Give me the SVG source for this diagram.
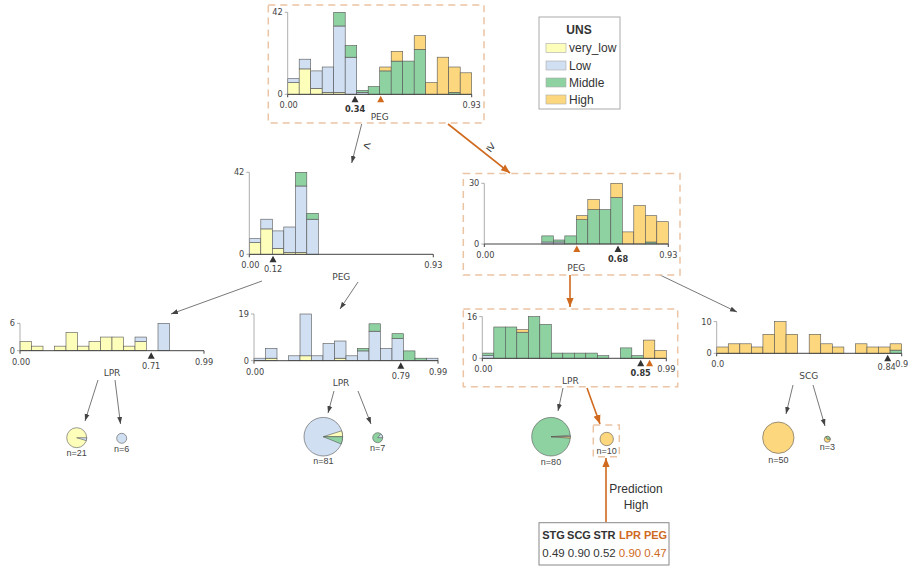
<svg xmlns="http://www.w3.org/2000/svg" width="916" height="581" viewBox="0 0 916 581">
<defs>
<style>
text{font-family:"Liberation Sans",Arial,sans-serif;fill:#333}
.tk{font-family:"DejaVu Sans",sans-serif;font-size:8.2px;fill:#444}
.tkm{font-family:"DejaVu Sans",sans-serif;font-size:8.2px;fill:#444;text-anchor:middle}
.tkb{font-family:"DejaVu Sans",sans-serif;font-size:8.2px;fill:#333;font-weight:bold;text-anchor:middle}
.ye{text-anchor:end}
.fl{font-family:"DejaVu Sans",sans-serif;font-size:9px;fill:#444;text-anchor:middle}
.ya{stroke:#999;stroke-width:0.8;fill:none}
.xa{stroke:#444;stroke-width:1;fill:none}
.b rect{stroke:#555;stroke-width:0.6}
.vl{fill:#FEFEBB}.lo{fill:#D0DFF1}.mi{fill:#8FD2A2}.hi{fill:#FDD77E}
.dbox{fill:none;stroke:#EBC4A4;stroke-width:1.5;stroke-dasharray:7,5}
.tb{fill:#333}.to{fill:#CF6A1E}
.e{stroke:#555;stroke-width:0.8;fill:none}
.eo{stroke:#CF6A1E;stroke-width:1.6;fill:none}
.pie circle,.pie path{stroke:#555;stroke-width:0.6}
.nl{font-size:9px;text-anchor:middle;fill:#444}
.lg{font-size:12px;fill:#333}
.pb{font-size:11px;font-weight:bold;text-anchor:middle;fill:#333}
.pv{font-size:11.5px;text-anchor:middle;fill:#333}
.or{fill:#CF6A1E}
</style>
<marker id="ag" viewBox="0 0 10 10" refX="10" refY="5" markerWidth="7" markerHeight="7" markerUnits="userSpaceOnUse" orient="auto"><path d="M0,1.5 L10,5 L0,8.5 z" fill="#444"/></marker>
<marker id="ao" viewBox="0 0 10 10" refX="10" refY="5" markerWidth="9" markerHeight="9" markerUnits="userSpaceOnUse" orient="auto"><path d="M0,1 L10,5 L0,9 z" fill="#CF6A1E"/></marker>
</defs>
<rect width="916" height="581" fill="#fff"/>

<g id="connectors">
<line class="e" x1="361.7" y1="124" x2="351.7" y2="163" marker-end="url(#ag)"/>
<line class="eo" x1="448" y1="124" x2="510" y2="173" marker-end="url(#ao)"/>
<line class="e" x1="262" y1="281" x2="171" y2="314" marker-end="url(#ag)"/>
<line class="e" x1="358" y1="282" x2="340" y2="309" marker-end="url(#ag)"/>
<line class="eo" x1="570" y1="275" x2="570" y2="307" marker-end="url(#ao)"/>
<line class="e" x1="660" y1="275" x2="737" y2="312" marker-end="url(#ag)"/>
<line class="e" x1="98" y1="380" x2="85" y2="421" marker-end="url(#ag)"/>
<line class="e" x1="115" y1="380" x2="120.5" y2="424" marker-end="url(#ag)"/>
<line class="e" x1="334" y1="391" x2="328" y2="413" marker-end="url(#ag)"/>
<line class="e" x1="358" y1="391" x2="371" y2="424" marker-end="url(#ag)"/>
<line class="e" x1="563" y1="388" x2="558" y2="411" marker-end="url(#ag)"/>
<line class="eo" x1="587" y1="388" x2="600" y2="424" marker-end="url(#ao)"/>
<line class="e" x1="793" y1="385" x2="786" y2="414" marker-end="url(#ag)"/>
<line class="e" x1="813" y1="385" x2="825" y2="426" marker-end="url(#ag)"/>
<line class="eo" x1="606" y1="522" x2="606" y2="458" marker-end="url(#ao)"/>
<text x="367" y="150" font-size="13" text-anchor="middle" transform="rotate(14 367 146)">&lt;</text>
<text x="491" y="151" font-size="13" text-anchor="middle" transform="rotate(38 491 147)">≥</text>
<text x="636" y="492.5" font-size="12" text-anchor="middle">Prediction</text>
<text x="636" y="508.5" font-size="12" text-anchor="middle">High</text>
</g>

<g id="legend">
<rect x="539" y="17" width="81" height="92" fill="#fff" stroke="#aaa" stroke-width="1"/>
<text x="579" y="33.5" font-size="12" font-weight="bold" text-anchor="middle">UNS</text>
<rect class="vl" x="546" y="43.5" width="20" height="9" stroke="#aaa" stroke-width="0.6"/>
<text class="lg" x="569" y="52">very_low</text>
<rect class="lo" x="546" y="61" width="20" height="9" stroke="#aaa" stroke-width="0.6"/>
<text class="lg" x="569" y="69.5">Low</text>
<rect class="mi" x="546" y="78" width="20" height="9" stroke="#aaa" stroke-width="0.6"/>
<text class="lg" x="569" y="86.5">Middle</text>
<rect class="hi" x="546" y="95" width="20" height="9" stroke="#aaa" stroke-width="0.6"/>
<text class="lg" x="569" y="103.5">High</text>
</g>

<g id="node0">
<rect class="dbox" x="268.3" y="5" width="215.7" height="118"/>
<g transform="translate(287.7,94.3)">
<g class="b">
<rect class="vl" x="0" y="-11.7" width="11.5" height="11.7"/><rect class="lo" x="0" y="-15.6" width="11.5" height="3.9"/>
<rect class="vl" x="11.5" y="-25.4" width="11.5" height="25.4"/><rect class="lo" x="11.5" y="-35.1" width="11.5" height="9.7"/>
<rect class="vl" x="23" y="-5.9" width="11.5" height="5.9"/><rect class="lo" x="23" y="-23.4" width="11.5" height="17.5"/>
<rect class="vl" x="34.5" y="-2" width="11.5" height="2"/><rect class="lo" x="34.5" y="-27.3" width="11.5" height="25.3"/>
<rect class="vl" x="46" y="-2" width="11.5" height="2"/><rect class="lo" x="46" y="-68.3" width="11.5" height="66.3"/><rect class="mi" x="46" y="-82" width="11.5" height="13.7"/>
<rect class="lo" x="57.5" y="-37.1" width="11.5" height="37.1"/><rect class="mi" x="57.5" y="-48.8" width="11.5" height="11.7"/>
<rect class="lo" x="69" y="-2" width="11.5" height="2"/><rect class="mi" x="69" y="-3.9" width="11.5" height="1.9"/>
<rect class="mi" x="80.5" y="-7.8" width="11.5" height="7.8"/>
<rect class="mi" x="92" y="-23.4" width="11.5" height="23.4"/><rect class="hi" x="92" y="-27.3" width="11.5" height="3.9"/>
<rect class="mi" x="103.5" y="-33.2" width="11.5" height="33.2"/><rect class="hi" x="103.5" y="-43" width="11.5" height="9.8"/>
<rect class="mi" x="115" y="-33.2" width="11.5" height="33.2"/>
<rect class="mi" x="126.5" y="-44.9" width="11.5" height="44.9"/><rect class="hi" x="126.5" y="-58.6" width="11.5" height="13.7"/>
<rect class="hi" x="138" y="-11.7" width="11.5" height="11.7"/>
<rect class="hi" x="149.5" y="-37.1" width="11.5" height="37.1"/>
<rect class="mi" x="161" y="-2" width="11.5" height="2"/><rect class="hi" x="161" y="-27.3" width="11.5" height="25.3"/>
<rect class="hi" x="172.5" y="-21.5" width="11.5" height="21.5"/>
</g>
<path class="ya" d="M0,0 V-82 M-3,0 H0 M-3,-82 H0"/>
<path class="xa" d="M0,0 H184 M0,0 V3 M184,0 V3"/>
<text class="tk ye" x="-5" y="-79">42</text><text class="tk ye" x="-5" y="3">0</text>
<text class="tkm" x="1" y="14">0.00</text><text class="tkm" x="184" y="14">0.93</text>
<polygon class="tb" points="63.8,8 70.8,8 67.3,1.5"/>
<text class="tkb" x="67.3" y="18">0.34</text>
<polygon class="to" points="89.5,8 96.5,8 93,1.5"/>
<text class="fl" x="92" y="25.5">PEG</text>
</g>
</g>

<g id="node1">
<g transform="translate(249.3,254.3)">
<g class="b">
<rect class="vl" x="0" y="-11.7" width="11.5" height="11.7"/><rect class="lo" x="0" y="-15.6" width="11.5" height="3.9"/>
<rect class="vl" x="11.5" y="-25.4" width="11.5" height="25.4"/><rect class="lo" x="11.5" y="-35.1" width="11.5" height="9.7"/>
<rect class="vl" x="23" y="-5.9" width="11.5" height="5.9"/><rect class="lo" x="23" y="-23.4" width="11.5" height="17.5"/>
<rect class="vl" x="34.5" y="-2" width="11.5" height="2"/><rect class="lo" x="34.5" y="-27.3" width="11.5" height="25.3"/>
<rect class="vl" x="46" y="-2" width="11.5" height="2"/><rect class="lo" x="46" y="-68.3" width="11.5" height="66.3"/><rect class="mi" x="46" y="-82" width="11.5" height="13.7"/>
<rect class="lo" x="57.5" y="-35.1" width="11.5" height="35.1"/><rect class="mi" x="57.5" y="-41" width="11.5" height="5.9"/>
</g>
<path class="ya" d="M0,0 V-82 M-3,0 H0 M-3,-82 H0"/>
<path class="xa" d="M0,0 H184 M0,0 V3 M184,0 V3"/>
<text class="tk ye" x="-5" y="-79">42</text><text class="tk ye" x="-5" y="3">0</text>
<text class="tkm" x="1" y="14">0.00</text><text class="tkm" x="184" y="14">0.93</text>
<polygon class="tb" points="20.2,8 27.2,8 23.7,1.5"/>
<text class="tkm" x="23.7" y="18">0.12</text>
<text class="fl" x="92" y="26">PEG</text>
</g>
</g>

<g id="node2">
<rect class="dbox" x="463.3" y="173.5" width="216.7" height="101.5"/>
<g transform="translate(484.3,244)">
<g class="b">
<rect class="lo" x="57.5" y="-2" width="11.5" height="2"/><rect class="mi" x="57.5" y="-8.1" width="11.5" height="6.1"/>
<rect class="lo" x="69" y="-2" width="11.5" height="2"/><rect class="mi" x="69" y="-4" width="11.5" height="2"/>
<rect class="mi" x="80.5" y="-8.1" width="11.5" height="8.1"/>
<rect class="mi" x="92" y="-24.3" width="11.5" height="24.3"/><rect class="hi" x="92" y="-28.3" width="11.5" height="4"/>
<rect class="mi" x="103.5" y="-34.4" width="11.5" height="34.4"/><rect class="hi" x="103.5" y="-44.5" width="11.5" height="10.1"/>
<rect class="mi" x="115" y="-34.4" width="11.5" height="34.4"/>
<rect class="mi" x="126.5" y="-46.5" width="11.5" height="46.5"/><rect class="hi" x="126.5" y="-60.7" width="11.5" height="14.2"/>
<rect class="hi" x="138" y="-12.1" width="11.5" height="12.1"/>
<rect class="hi" x="149.5" y="-38.4" width="11.5" height="38.4"/>
<rect class="mi" x="161" y="-2" width="11.5" height="2"/><rect class="hi" x="161" y="-28.3" width="11.5" height="26.3"/>
<rect class="hi" x="172.5" y="-22.3" width="11.5" height="22.3"/>
</g>
<path class="ya" d="M0,0 V-60.7 M-3,0 H0 M-3,-60.7 H0"/>
<path class="xa" d="M0,0 H184 M0,0 V3 M184,0 V3"/>
<text class="tk ye" x="-5" y="-57.7">30</text><text class="tk ye" x="-5" y="3">0</text>
<text class="tkm" x="1" y="14">0.00</text><text class="tkm" x="184" y="14">0.93</text>
<polygon class="to" points="89,8 96,8 92.5,1.5"/>
<polygon class="tb" points="130.2,8 137.2,8 133.7,1.5"/>
<text class="tkb" x="133.7" y="18">0.68</text>
<text class="fl" x="92" y="26.5">PEG</text>
</g>
</g>

<g id="node3">
<g transform="translate(20,350.7)">
<g class="b">
<rect class="vl" x="0" y="-9.1" width="11.5" height="9.1"/>
<rect class="vl" x="11.5" y="-4.55" width="11.5" height="4.55"/>
<rect class="vl" x="34.5" y="-4.55" width="11.5" height="4.55"/>
<rect class="vl" x="46" y="-18.2" width="11.5" height="18.2"/>
<rect class="vl" x="57.5" y="-4.55" width="11.5" height="4.55"/>
<rect class="vl" x="69" y="-9.1" width="11.5" height="9.1"/>
<rect class="vl" x="80.5" y="-13.65" width="11.5" height="13.65"/>
<rect class="vl" x="92" y="-13.65" width="11.5" height="13.65"/>
<rect class="vl" x="103.5" y="-4.55" width="11.5" height="4.55"/>
<rect class="vl" x="115" y="-9.1" width="11.5" height="9.1"/><rect class="lo" x="115" y="-13.65" width="11.5" height="4.55"/>
<rect class="lo" x="138" y="-27.3" width="11.5" height="27.3"/>
</g>
<path class="ya" d="M0,0 V-27.3 M-3,0 H0 M-3,-27.3 H0"/>
<path class="xa" d="M0,0 H184 M0,0 V3 M184,0 V3"/>
<text class="tk ye" x="-5" y="-24.3">6</text><text class="tk ye" x="-5" y="3">0</text>
<text class="tkm" x="1" y="14">0.00</text><text class="tkm" x="184" y="14">0.99</text>
<polygon class="tb" points="127.7,8 134.7,8 131.2,1.5"/>
<text class="tkm" x="131.2" y="18">0.71</text>
<text class="fl" x="92" y="25.5">LPR</text>
</g>
</g>

<g id="node4">
<g transform="translate(254,360.7)">
<g class="b">
<rect class="lo" x="0" y="-2.5" width="11.5" height="2.5"/>
<rect class="vl" x="11.5" y="-2.5" width="11.5" height="2.5"/><rect class="lo" x="11.5" y="-12.3" width="11.5" height="9.8"/>
<rect class="lo" x="34.5" y="-4.9" width="11.5" height="4.9"/>
<rect class="vl" x="46" y="-4.9" width="11.5" height="4.9"/><rect class="lo" x="46" y="-46.7" width="11.5" height="41.8"/>
<rect class="lo" x="57.5" y="-4.9" width="11.5" height="4.9"/>
<rect class="lo" x="69" y="-17.2" width="11.5" height="17.2"/>
<rect class="vl" x="80.5" y="-2.5" width="11.5" height="2.5"/><rect class="lo" x="80.5" y="-19.7" width="11.5" height="17.2"/>
<rect class="lo" x="92" y="-4.9" width="11.5" height="4.9"/>
<rect class="lo" x="103.5" y="-9.8" width="11.5" height="9.8"/><rect class="mi" x="103.5" y="-12.3" width="11.5" height="2.5"/>
<rect class="lo" x="115" y="-29.5" width="11.5" height="29.5"/><rect class="mi" x="115" y="-36.9" width="11.5" height="7.4"/>
<rect class="lo" x="126.5" y="-12.3" width="11.5" height="12.3"/>
<rect class="lo" x="138" y="-22.1" width="11.5" height="22.1"/><rect class="mi" x="138" y="-27" width="11.5" height="4.9"/>
<rect class="mi" x="149.5" y="-9.8" width="11.5" height="9.8"/>
<rect class="mi" x="161" y="-2.5" width="11.5" height="2.5"/>
<rect class="lo" x="172.5" y="-2.5" width="11.5" height="2.5"/>
</g>
<path class="ya" d="M0,0 V-46.7 M-3,0 H0 M-3,-46.7 H0"/>
<path class="xa" d="M0,0 H184 M0,0 V3 M184,0 V3"/>
<text class="tk ye" x="-5" y="-43.7">19</text><text class="tk ye" x="-5" y="3">0</text>
<text class="tkm" x="1" y="14">0.00</text><text class="tkm" x="184" y="14">0.99</text>
<polygon class="tb" points="143.3,8 150.3,8 146.8,1.5"/>
<text class="tkm" x="146.8" y="18">0.79</text>
<text class="fl" x="87" y="25.5">LPR</text>
</g>
</g>

<g id="node5">
<rect class="dbox" x="463.3" y="309" width="214.4" height="77.7"/>
<g transform="translate(482.3,358.3)">
<g class="b">
<rect class="lo" x="0" y="-2.6" width="11.5" height="2.6"/><rect class="mi" x="0" y="-5.2" width="11.5" height="2.6"/>
<rect class="mi" x="11.5" y="-31.3" width="11.5" height="31.3"/>
<rect class="mi" x="23" y="-31.3" width="11.5" height="31.3"/>
<rect class="mi" x="34.5" y="-26.1" width="11.5" height="26.1"/><rect class="hi" x="34.5" y="-28.7" width="11.5" height="2.6"/>
<rect class="mi" x="46" y="-41.7" width="11.5" height="41.7"/>
<rect class="mi" x="57.5" y="-33.9" width="11.5" height="33.9"/>
<rect class="mi" x="69" y="-5.2" width="11.5" height="5.2"/>
<rect class="mi" x="80.5" y="-5.2" width="11.5" height="5.2"/>
<rect class="mi" x="92" y="-5.2" width="11.5" height="5.2"/>
<rect class="mi" x="103.5" y="-5.2" width="11.5" height="5.2"/>
<rect class="mi" x="115" y="-2.6" width="11.5" height="2.6"/>
<rect class="mi" x="138" y="-10.4" width="11.5" height="10.4"/>
<rect class="mi" x="149.5" y="-2.6" width="11.5" height="2.6"/>
<rect class="hi" x="161" y="-18.2" width="11.5" height="18.2"/>
<rect class="hi" x="172.5" y="-7.8" width="11.5" height="7.8"/>
</g>
<path class="ya" d="M0,0 V-41.7 M-3,0 H0 M-3,-41.7 H0"/>
<path class="xa" d="M0,0 H184 M0,0 V3 M184,0 V3"/>
<text class="tk ye" x="-5" y="-38.7">16</text><text class="tk ye" x="-5" y="3">0</text>
<text class="tkm" x="1" y="14">0.00</text><text class="tkm" x="184" y="14">0.99</text>
<polygon class="tb" points="154.9,8 161.9,8 158.4,1.5"/>
<text class="tkb" x="158.4" y="18">0.85</text>
<polygon class="to" points="163.8,8 170.8,8 167.3,1.5"/>
<text class="fl" x="88" y="25.5">LPR</text>
</g>
</g>

<g id="node6">
<g transform="translate(716.7,353.3)">
<g class="b">
<rect class="hi" x="0" y="-6.3" width="11.56" height="6.3"/>
<rect class="hi" x="11.56" y="-9.5" width="11.56" height="9.5"/>
<rect class="hi" x="23.12" y="-9.5" width="11.56" height="9.5"/>
<rect class="hi" x="34.68" y="-6.3" width="11.56" height="6.3"/>
<rect class="hi" x="46.24" y="-19" width="11.56" height="19"/>
<rect class="hi" x="57.8" y="-31.7" width="11.56" height="31.7"/>
<rect class="hi" x="69.36" y="-19" width="11.56" height="19"/>
<rect class="hi" x="92.48" y="-19" width="11.56" height="19"/>
<rect class="hi" x="104.04" y="-9.5" width="11.56" height="9.5"/>
<rect class="hi" x="115.6" y="-6.3" width="11.56" height="6.3"/>
<rect class="hi" x="138.72" y="-9.5" width="11.56" height="9.5"/>
<rect class="hi" x="150.28" y="-6.3" width="11.56" height="6.3"/>
<rect class="hi" x="161.84" y="-6.3" width="11.56" height="6.3"/>
<rect class="mi" x="173.4" y="-3.2" width="11.56" height="3.2"/><rect class="hi" x="173.4" y="-9.5" width="11.56" height="6.3"/>
</g>
<path class="ya" d="M0,0 V-31.7 M-3,0 H0 M-3,-31.7 H0"/>
<path class="xa" d="M0,0 H185 M0,0 V3 M185,0 V3"/>
<text class="tk ye" x="-5" y="-28.7">10</text><text class="tk ye" x="-5" y="3">0</text>
<text class="tkm" x="1" y="14">0.0</text><text class="tkm" x="185" y="14">0.9</text>
<polygon class="tb" points="167.5,8 174.5,8 171,1.5"/>
<text class="tkm" x="170" y="17">0.84</text>
<text class="fl" x="92" y="25.5">SCG</text>
</g>
</g>

<g id="leaf_n21" class="pie">
<circle class="vl" cx="76.7" cy="437.7" r="10"/>
<path class="lo" d="M76.7,437.7 L86.26,440.64 A10,10 0 0 0 86.7,437.7 Z"/>
<text class="nl" x="76.7" y="456">n=21</text>
</g>
<g id="leaf_n6" class="pie">
<circle class="lo" cx="121.7" cy="438.3" r="5"/>
<text class="nl" x="121.7" y="451.5">n=6</text>
</g>
<g id="leaf_n81" class="pie">
<circle class="lo" cx="323.3" cy="436.7" r="19.3"/>
<path class="vl" d="M323.3,436.7 L342.6,436.7 A19.3,19.3 0 0 0 341.68,430.81 Z"/>
<path class="mi" d="M323.3,436.7 L341.17,443.99 A19.3,19.3 0 0 0 342.6,436.7 Z"/>
<text class="nl" x="323.3" y="463.5">n=81</text>
</g>
<g id="leaf_n7" class="pie">
<circle class="mi" cx="377.7" cy="437.7" r="5"/>
<path class="lo" d="M377.7,437.7 L382.7,437.7 A5,5 0 0 0 380.82,433.79 Z"/>
<text class="nl" x="377.7" y="451">n=7</text>
</g>
<g id="leaf_n80" class="pie">
<circle class="mi" cx="551" cy="436.7" r="19.3"/>
<path class="lo" d="M551,436.7 L570.3,436.7 A19.3,19.3 0 0 0 570.24,435.19 Z"/>
<path class="hi" d="M551,436.7 L570.24,438.21 A19.3,19.3 0 0 0 570.3,436.7 Z"/>
<text class="nl" x="551" y="464.5">n=80</text>
</g>
<g id="leaf_n10" class="pie">
<rect class="dbox" x="593.3" y="425" width="26" height="31.7"/>
<circle class="hi" cx="606.7" cy="439" r="6.7"/>
<text class="nl" x="606.7" y="453.5">n=10</text>
</g>
<g id="leaf_n50" class="pie">
<circle class="hi" cx="778.3" cy="437.7" r="15.7"/>
<text class="nl" x="778.3" y="462.5">n=50</text>
</g>
<g id="leaf_n3" class="pie">
<circle class="hi" cx="827.3" cy="439.3" r="3"/>
<path class="mi" d="M827.3,439.3 L830.3,439.3 A3,3 0 0 0 825.8,436.7 Z"/>
<text class="nl" x="827.3" y="449.5">n=3</text>
</g>

<g id="prediction">
<rect x="539" y="522.7" width="130" height="42.3" fill="#fff" stroke="#888" stroke-width="1"/>
<text class="pb" x="553.5" y="538.5">STG</text>
<text class="pb" x="579" y="538.5">SCG</text>
<text class="pb" x="604.5" y="538.5">STR</text>
<text class="pb or" x="630" y="538.5">LPR</text>
<text class="pb or" x="655.5" y="538.5">PEG</text>
<text class="pv" x="553.5" y="557">0.49</text>
<text class="pv" x="579" y="557">0.90</text>
<text class="pv" x="604.5" y="557">0.52</text>
<text class="pv or" x="630" y="557">0.90</text>
<text class="pv or" x="655.5" y="557">0.47</text>
</g>
</svg>
